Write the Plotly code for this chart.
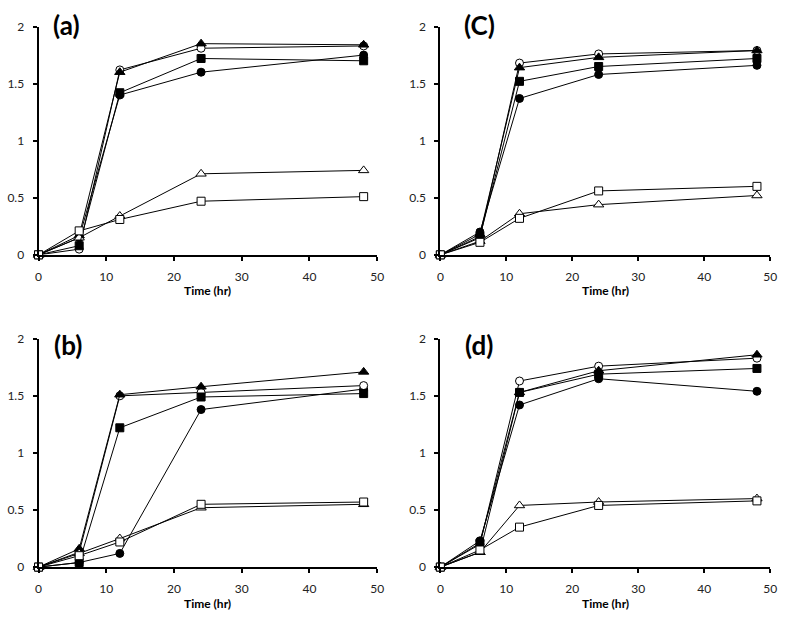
import plotly.graph_objects as go

time_hr = [0, 6, 12, 24, 48]

# Panel (a)
a_filled_circle = [0, 0.15, 1.40, 1.60, 1.75]
a_open_circle = [0, 0.05, 1.62, 1.81, 1.83]
a_filled_triangle = [0, 0.17, 1.60, 1.85, 1.84]
a_open_triangle = [0, 0.15, 0.34, 0.71, 0.74]
a_filled_square = [0, 0.08, 1.42, 1.72, 1.70]
a_open_square = [0, 0.21, 0.31, 0.47, 0.51]

# Panel (b)
b_filled_circle = [0, 0.04, 0.12, 1.38, 1.56]
b_open_circle = [0, 0.13, 1.50, 1.53, 1.59]
b_filled_triangle = [0, 0.16, 1.51, 1.58, 1.71]
b_open_triangle = [0, 0.12, 0.25, 0.52, 0.55]
b_filled_square = [0, 0.04, 1.22, 1.49, 1.52]
b_open_square = [0, 0.10, 0.22, 0.55, 0.57]

# Panel (C)
c_filled_circle = [0, 0.20, 1.37, 1.58, 1.66]
c_open_circle = [0, 0.15, 1.68, 1.76, 1.79]
c_filled_triangle = [0, 0.18, 1.64, 1.73, 1.79]
c_open_triangle = [0, 0.12, 0.36, 0.44, 0.52]
c_filled_square = [0, 0.16, 1.52, 1.65, 1.72]
c_open_square = [0, 0.11, 0.32, 0.56, 0.60]

# Panel (d)
d_filled_circle = [0, 0.23, 1.42, 1.65, 1.54]
d_open_circle = [0, 0.20, 1.63, 1.76, 1.83]
d_filled_triangle = [0, 0.13, 1.53, 1.72, 1.86]
d_open_triangle = [0, 0.13, 0.54, 0.57, 0.60]
d_filled_square = [0, 0.21, 1.53, 1.69, 1.74]
d_open_square = [0, 0.15, 0.35, 0.54, 0.58]

panel_labels = ["(a)", "(C)", "(b)", "(d)"]
x_title = "Time (hr)"
y_ticks = [0, 0.5, 1, 1.5, 2]
y_ticktext = ["0", "0.5", "1", "1.5", "2"]
x_ticks = [0, 10, 20, 30, 40, 50]

panels = [
    [a_filled_circle, a_open_circle, a_filled_triangle, a_open_triangle, a_filled_square, a_open_square],
    [c_filled_circle, c_open_circle, c_filled_triangle, c_open_triangle, c_filled_square, c_open_square],
    [b_filled_circle, b_open_circle, b_filled_triangle, b_open_triangle, b_filled_square, b_open_square],
    [d_filled_circle, d_open_circle, d_filled_triangle, d_open_triangle, d_filled_square, d_open_square],
]
styles = [
    ("circle", "black"),
    ("circle", "white"),
    ("triangle-up", "black"),
    ("triangle-up", "white"),
    ("square", "black"),
    ("square", "white"),
]

W, H = 787, 618
# pixel positions of plot areas: (x_left, x_right, y_top, y_bottom)
boxes = [
    (36, 379, 19, 253),
    (443, 777, 19, 253),
    (36, 379, 339, 573),
    (443, 777, 339, 573),
]
label_pos = [(64, 17), (483, 17), (66, 345), (482, 345)]

fig = go.Figure()
font = "Lato, 'Open Sans', sans-serif"
for i, (series, box) in enumerate(zip(panels, boxes)):
    xa = "x" if i == 0 else f"x{i+1}"
    ya = "y" if i == 0 else f"y{i+1}"
    for vals, (sym, fill) in zip(series, styles):
        size = 9 if "triangle" in sym else 8
        fig.add_trace(go.Scatter(
            x=time_hr, y=vals, xaxis=xa, yaxis=ya, mode="lines+markers",
            line=dict(color="black", width=1),
            marker=dict(symbol=sym, color=fill, size=size, line=dict(color="black", width=1)),
            cliponaxis=False, showlegend=False,
        ))
    x0, x1, yt, yb = box
    axkey = "xaxis" if i == 0 else f"xaxis{i+1}"
    aykey = "yaxis" if i == 0 else f"yaxis{i+1}"
    fig.layout[axkey] = dict(
        domain=[x0 / W, x1 / W], range=[0, 50], anchor=ya,
        tickvals=x_ticks, showline=True, linecolor="black", linewidth=2,
        ticks="outside", ticklen=4, tickcolor="black", tickwidth=2,
        ticklabelstandoff=6,
        showgrid=False, zeroline=False,
        tickfont=dict(family=font, size=12, color="#222"),
    )
    fig.layout[aykey] = dict(
        domain=[1 - yb / H, 1 - yt / H], range=[0, 2], anchor=xa,
        tickvals=y_ticks, ticktext=y_ticktext, showline=True, linecolor="black", linewidth=2,
        ticks="outside", ticklen=4, tickcolor="black", tickwidth=2,
        ticklabelstandoff=6,
        showgrid=False, zeroline=False,
        tickfont=dict(family=font, size=12, color="#222"),
    )
    lx, ly = label_pos[i]
    fig.add_annotation(x=lx / W, y=1 - ly / H, xref="paper", yref="paper",
                       text=f"<b>{panel_labels[i]}</b>", showarrow=False,
                       font=dict(family=font, size=26, color="black"),
                       xanchor="center", yanchor="middle")
    fig.add_annotation(x=(x0 + x1) / 2 / W, y=1 - (yb + 37) / H, xref="paper", yref="paper",
                       text=f"<b>{x_title}</b>", showarrow=False,
                       font=dict(family=font, size=12, color="black"),
                       xanchor="center", yanchor="middle")

fig.update_layout(
    width=W, height=H, margin=dict(l=0, r=0, t=0, b=0),
    plot_bgcolor="white", paper_bgcolor="white",
)
fig.write_html("out.html", config={"displayModeBar": False},
               post_script="document.body.style.margin='0';")
